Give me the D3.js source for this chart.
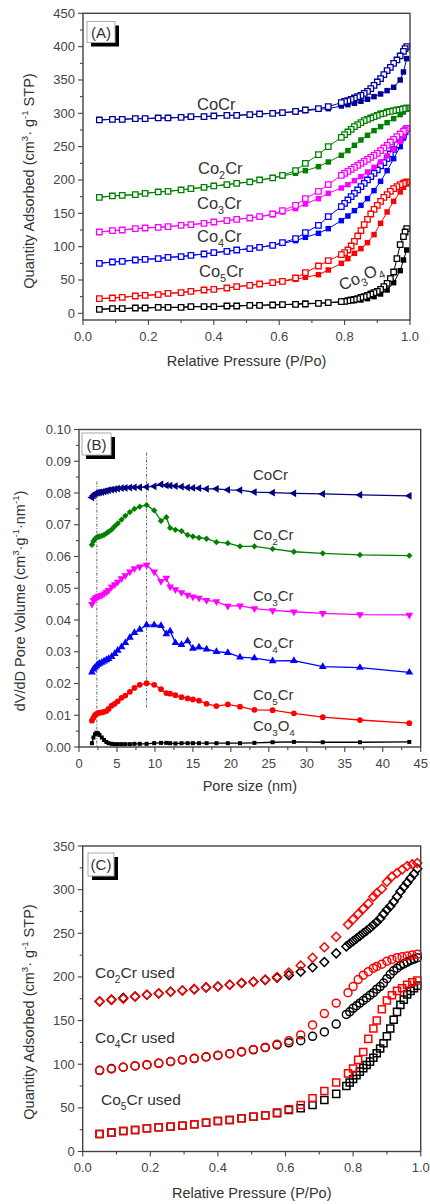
<!DOCTYPE html>
<html><head><meta charset="utf-8">
<script src="https://cdn.jsdelivr.net/npm/d3@7"></script>
<style>body{margin:0;background:#fff}svg{display:block}text{font-family:"Liberation Sans",Arial,sans-serif}</style>
</head><body><svg id="c" width="430" height="1204"></svg>
<script>
// ---------- Panel A: N2 isotherms (fresh catalysts) ----------
const pAds = [0.05,0.09,0.12,0.16,0.19,0.23,0.26,0.30,0.33,0.37,0.40,0.44,0.47,0.51,0.54,0.58,0.61,0.65,0.68,0.72,0.75,0.79,0.81,0.83,0.85,0.87,0.89,0.91,0.93,0.95,0.97,0.98,0.99];
const pDes = [0.99,0.985,0.98,0.97,0.96,0.95,0.94,0.93,0.92,0.91,0.90,0.89,0.88,0.87,0.86,0.85,0.84,0.83,0.82,0.81,0.80,0.79,0.75,0.72,0.68,0.65,0.61,0.58,0.54,0.51,0.47,0.44,0.40,0.37,0.33,0.30,0.26,0.23,0.19,0.16,0.12,0.09,0.05];
const cocrAds = [290,291,291,292,292,293,293,294,295,295,296,297,297,298,299,300,301,302,304,306,307,311,313,315,318,321,325,329,334,339,350,362,382];
const cocrDes = [400,397,393,386,380,375,369,364,358,352,347,342,337,333,330,327,325,323,321,319,318,316,310,307,305,303,301,300,299,298,297,297,296,295,295,294,293,293,292,292,291,291,290];
const co2crAds = [174,176,177,178,180,182,183,185,187,189,191,193,195,197,200,203,206,210,214,220,227,237,244,252,260,267,274,280,286,292,298,302,306];
const co2crDes = [308,307,307,306,305,304,303,302,300,299,297,295,293,291,289,286,283,280,276,272,268,264,250,238,225,214,207,203,200,197,195,193,191,189,187,185,183,182,180,178,177,176,174];
const co3crAds = [122,124,125,127,128,129,130,132,133,135,137,139,141,143,145,148,152,157,164,172,180,188,193,199,205,212,219,227,236,246,258,266,275];
const co3crDes = [277,275,273,269,265,261,257,252,248,244,240,237,234,231,228,225,222,219,216,213,210,207,193,183,172,162,154,149,145,143,141,139,137,135,133,132,130,129,128,127,125,124,122];
const co4crAds = [75,77,78,80,81,82,84,85,87,89,91,93,95,97,99,102,105,109,114,120,127,139,146,154,162,172,184,198,214,232,250,263,276];
const co4crDes = [277,272,267,260,253,246,239,232,226,221,215,210,205,200,195,190,185,180,175,170,165,160,145,132,121,112,106,102,99,97,95,93,91,89,87,85,84,82,81,80,78,77,75];
const co5crAds = [22,23,24,26,27,28,30,31,33,35,36,38,40,42,44,46,48,51,54,58,65,75,82,90,97,106,118,135,152,168,182,189,194];
const co5crDes = [197,196,195,193,190,187,183,178,174,168,162,156,149,141,133,124,116,108,101,95,91,88,79,71,61,53,48,46,44,42,40,38,36,35,33,31,30,28,27,26,24,23,22];
const co3o4Ads = [6,7,7,8,8,9,9,9,10,10,10,11,11,12,12,13,13,14,15,15,16,17,18,19,20,22,25,29,35,46,64,80,95];
const co3o4Des = [127,122,115,103,82,62,52,45,40,36,33,31,29,27,25,24,22,21,20,19,18,17.5,16,15,14,13.5,13,12.5,12,12,11,11,10,10,10,9,9,9,8,8,7,7,6];

// ---------- Panel B: pore size distribution ----------
const poreSize = [1.7,1.9,2.1,2.3,2.5,2.7,3.0,3.3,3.6,3.9,4.3,4.7,5.1,5.6,6.1,6.7,7.3,8.0,8.9,9.9,10.8,11.5,12.0,12.7,13.5,14.3,15.0,15.8,16.8,18.1,19.6,21.2,23.1,25.5,28.3,32.1,37.0,43.5];
const psdCoCr  = [0.0786,0.0792,0.0797,0.0800,0.0801,0.0802,0.0803,0.0805,0.0807,0.0809,0.0811,0.0812,0.0814,0.0815,0.0816,0.0817,0.0818,0.0818,0.0819,0.0821,0.0827,0.0824,0.0823,0.0822,0.0820,0.0817,0.0816,0.0815,0.0813,0.0813,0.0810,0.0809,0.0803,0.0801,0.0799,0.0797,0.0794,0.0791];
const psdCo2Cr = [0.0637,0.0648,0.0655,0.0660,0.0662,0.0663,0.0665,0.0668,0.0673,0.0678,0.0685,0.0695,0.0704,0.0716,0.0728,0.0740,0.0750,0.0757,0.0762,0.0745,0.0712,0.0724,0.0690,0.0684,0.0680,0.0668,0.0663,0.0659,0.0656,0.0645,0.0642,0.0632,0.0632,0.0624,0.0615,0.0610,0.0605,0.0603];
const psdCo3Cr = [0.0450,0.0462,0.0468,0.0472,0.0474,0.0476,0.0478,0.0483,0.0488,0.0494,0.0505,0.0512,0.0520,0.0531,0.0540,0.0552,0.0562,0.0568,0.0573,0.0552,0.0522,0.0532,0.0505,0.0496,0.0487,0.0479,0.0473,0.0469,0.0462,0.0458,0.0444,0.0445,0.0436,0.0430,0.0426,0.0421,0.0417,0.0416];
const psdCo4Cr = [0.0235,0.0245,0.0250,0.0255,0.0260,0.0263,0.0266,0.0270,0.0274,0.0278,0.0284,0.0294,0.0304,0.0315,0.0328,0.0345,0.0360,0.0370,0.0384,0.0384,0.0382,0.0356,0.0365,0.0328,0.0322,0.0334,0.0310,0.0314,0.0308,0.0300,0.0297,0.0283,0.0280,0.0271,0.0272,0.0253,0.0250,0.0235];
const psdCo5Cr = [0.0083,0.0092,0.0100,0.0104,0.0106,0.0108,0.0109,0.0111,0.0113,0.0120,0.0130,0.0136,0.0144,0.0155,0.0162,0.0174,0.0186,0.0196,0.0201,0.0196,0.0182,0.0170,0.0168,0.0163,0.0157,0.0153,0.0150,0.0146,0.0136,0.0129,0.0134,0.0127,0.0117,0.0116,0.0106,0.0094,0.0085,0.0075];
const psdCo3O4 = [0.0012,0.0030,0.0040,0.0045,0.0043,0.0038,0.0030,0.0022,0.0016,0.0012,0.0010,0.0009,0.0009,0.0009,0.0009,0.0009,0.0010,0.0010,0.0010,0.0012,0.0013,0.0013,0.0012,0.0011,0.0012,0.0012,0.0012,0.0012,0.0012,0.0012,0.0012,0.0012,0.0013,0.0015,0.0016,0.0015,0.0015,0.0016];
const guideSize = [2.35, 8.9];
const guideTop = [0.0836, 0.0927];
const guideBottom = [0.0, 0.0122];

// ---------- Panel C: used catalysts ----------
const pUsedAds = [0.05,0.085,0.12,0.155,0.19,0.225,0.26,0.295,0.33,0.365,0.40,0.435,0.47,0.505,0.54,0.575,0.61,0.645,0.68,0.715,0.75,0.78,0.79,0.80,0.81,0.82,0.83,0.84,0.85,0.86,0.87,0.88,0.89,0.90,0.91,0.92,0.93,0.94,0.95,0.96,0.97,0.98,0.99];
const pUsedDes = [0.99,0.975,0.96,0.945,0.93,0.915,0.90,0.885,0.87,0.86,0.845,0.83,0.815,0.80,0.785,0.75,0.715,0.68,0.645,0.61,0.575,0.54,0.505,0.47,0.435,0.40,0.365,0.33,0.295,0.26,0.225,0.19,0.155,0.12,0.085,0.05];
const co2crUsedAds = [172,174,176,177.5,179.5,181,183,184.5,186,188,189,191,193,194.5,196.5,199,202,206,211,217,227,235,238,241,244,247,250,253,256,259.5,263,267,272,277,281,286,292,298,303,308,313,318,324];
const co2crUsedDes = [330.5,329,327,323,319,315,309,301,296,292,284,278,272,266,260,246,234,222,213,205,200,197,194.5,193,191,189,188,186,184.5,183,181.4,179.5,177.5,175,173.7,171.8];
const co4crUsedAds = [93,95,96.5,98,99.5,101,103,105,106.5,108.5,110,112,114,116.5,119,122,124.5,127,132,137,146,157,160,164,167,170,173,176,179,182,186,189,193,198,203,207,210,213,215,217,219,220.5,222];
const co4crUsedDes = [226,225,224,223,222,220,218,214.5,212,210,206,202,197,189,182,170,158,145,133.5,127,123,119.5,117,114.5,112,110.3,108.4,106.8,105,103,101,99.2,98,96.5,94.6,92.7];
const co5crUsedAds = [20,21.6,23.5,24.7,26.6,27.7,28.4,29.6,31.2,33,35,36.1,38,39.9,41.5,44,47.5,49.5,53.3,59,66,75,79,83,87.5,91.5,95.5,99,103,107.5,112.5,118,124,132,141,151,160,168,174,180,184,187,190];
const co5crUsedDes = [196,194,191,187,184,179,173,163,150,141,129,114,105,95,89.5,79,69.4,61,53.3,48.4,44.5,41.5,39.9,38,36.1,35,33,31.2,29.6,28.4,27.7,26.6,24.7,23.5,21.6,20];

// ---------- ticks ----------
const pressTicks = [0, 0.2, 0.4, 0.6, 0.8, 1.0];
const pressMinor = [0.1, 0.3, 0.5, 0.7, 0.9];
const aYTicks = [0,50,100,150,200,250,300,350,400,450];
const aYMinor = [25,75,125,175,225,275,325,375,425];
const bXTicks = [0,5,10,15,20,25,30,35,40,45];
const bXMinor = [2.5,7.5,12.5,17.5,22.5,27.5,32.5,37.5,42.5];
const bYTicks = [0,0.01,0.02,0.03,0.04,0.05,0.06,0.07,0.08,0.09,0.10];
const bYMinor = [0.005,0.015,0.025,0.035,0.045,0.055,0.065,0.075,0.085,0.095];
const cYTicks = [0,50,100,150,200,250,300,350];
const cYMinor = [25,75,125,175,225,275,325];

const svg = d3.select('#c');
const TXT = '#333';
const AX = '#444';

function rich(g, x, y, parts, size, o = {}) {
  const t = g.append('text').attr('x', x).attr('y', y)
    .style('font-size', size + 'px').attr('fill', o.fill || TXT)
    .attr('text-anchor', o.anchor || 'start');
  if (o.transform) t.attr('transform', o.transform);
  let off = 0;
  parts.forEach(p => {
    let s = p, k = null;
    if (Array.isArray(p)) { s = p[0]; k = p[1]; }
    const target = k === 'sub' ? size * 0.3 : k === 'sup' ? -size * 0.4 : 0;
    const ts = t.append('tspan').text(s).attr('dy', target - off);
    if (k) ts.style('font-size', (size * 0.66) + 'px');
    off = target;
  });
  return t;
}

function frame(g, x, y, c) {
  const [x0, x1] = x.range(), [y0, y1] = y.range();
  // ticks
  const tk = g.append('g').attr('stroke', AX).attr('stroke-width', 1.1);
  c.xMajor.forEach(v => tk.append('line').attr('x1', x(v)).attr('x2', x(v)).attr('y1', y0).attr('y2', y0 + 5));
  c.xMinor.forEach(v => tk.append('line').attr('x1', x(v)).attr('x2', x(v)).attr('y1', y0).attr('y2', y0 + 3));
  c.yMajor.forEach(v => tk.append('line').attr('y1', y(v)).attr('y2', y(v)).attr('x1', x0).attr('x2', x0 - 5));
  c.yMinor.forEach(v => tk.append('line').attr('y1', y(v)).attr('y2', y(v)).attr('x1', x0).attr('x2', x0 - 3));
  g.append('rect').attr('x', x0).attr('y', y1).attr('width', x1 - x0).attr('height', y0 - y1)
    .attr('fill', 'none').attr('stroke', AX).attr('stroke-width', 1.4);
  const lab = g.append('g').attr('fill', '#444').style('font-size', '13px');
  c.xMajor.forEach(v => lab.append('text').attr('x', x(v)).attr('y', c.xLabY).attr('text-anchor', 'middle').text(c.xFmt(v)));
  c.yMajor.forEach(v => lab.append('text').attr('x', x0 - 8).attr('y', y(v) + 4.5).attr('text-anchor', 'end').text(c.yFmt(v)));
  g.append('text').attr('x', (x0 + x1) / 2).attr('y', c.xTitleY).attr('text-anchor', 'middle')
    .style('font-size', '14.5px').attr('fill', TXT).text(c.xTitle);
  rich(g, 0, 0, c.yTitle, 14.5, { anchor: 'middle', transform: `translate(${c.yTitleX},${c.yTitleY}) rotate(-90)` });
  // panel tag box
  const b = c.box;
  g.append('rect').attr('x', b.x + 4).attr('y', b.y + 4).attr('width', b.w).attr('height', b.h).attr('fill', '#000');
  g.append('rect').attr('x', b.x).attr('y', b.y).attr('width', b.w).attr('height', b.h).attr('fill', '#fff').attr('stroke', '#aaa').attr('stroke-width', 1);
  g.append('text').attr('x', b.x + b.w / 2).attr('y', b.y + b.h / 2 + 5.5).attr('text-anchor', 'middle')
    .style('font-size', '15px').attr('fill', TXT).text(b.text);
}

const zip = (xs, ys) => xs.map((v, i) => [v, ys[i]]);

// ================= Panel A =================
{
  const g = svg.append('g');
  const x = d3.scaleLinear().domain([0, 1]).range([83, 410]);
  const y = d3.scaleLinear().domain([-10, 450]).range([320, 13.3]);
  const line = d3.line().x(d => x(d[0])).y(d => y(d[1]));
  const sq = d3.symbol(d3.symbolSquare, 30);
  const series = [
    { ads: co3o4Ads, des: co3o4Des, color: '#000000' },
    { ads: co5crAds, des: co5crDes, color: '#ff0000' },
    { ads: co4crAds, des: co4crDes, color: '#0000ff' },
    { ads: co3crAds, des: co3crDes, color: '#ff00ff' },
    { ads: co2crAds, des: co2crDes, color: '#008000' },
    { ads: cocrAds, des: cocrDes, color: '#000099' }
  ];
  series.forEach(s => {
    const a = zip(pAds, s.ads), d = zip(pDes, s.des);
    g.append('path').attr('d', line(a)).attr('fill', 'none').attr('stroke', s.color).attr('stroke-width', 1);
    g.append('path').attr('d', line(d)).attr('fill', 'none').attr('stroke', s.color).attr('stroke-width', 1);
    g.selectAll(null).data(a).enter().append('path').attr('d', sq)
      .attr('transform', p => `translate(${x(p[0])},${y(p[1])})`).attr('fill', s.color);
    g.selectAll(null).data(d).enter().append('path').attr('d', sq)
      .attr('transform', p => `translate(${x(p[0])},${y(p[1])})`).attr('fill', '#fff')
      .attr('stroke', s.color).attr('stroke-width', 1.3);
  });
  frame(g, x, y, {
    xMajor: pressTicks, xMinor: pressMinor, yMajor: aYTicks, yMinor: aYMinor,
    xFmt: d3.format('.1f'), yFmt: d3.format('d'), xLabY: 341, xTitleY: 366,
    xTitle: 'Relative Pressure (P/Po)',
    yTitle: ['Quantity Adsorbed (cm', ['3', 'sup'], '· g', ['-1', 'sup'], ' STP)'], yTitleX: 34, yTitleY: 181,
    box: { x: 87, y: 21.5, w: 28, h: 21, text: '(A)' }
  });
  const L = 16.5;
  rich(g, 197, 110, ['CoCr'], L);
  rich(g, 198, 174, ['Co', ['2', 'sub'], 'Cr'], L);
  rich(g, 197, 209, ['Co', ['3', 'sub'], 'Cr'], L);
  rich(g, 197, 242, ['Co', ['4', 'sub'], 'Cr'], L);
  rich(g, 199, 277, ['Co', ['5', 'sub'], 'Cr'], L);
  rich(g, 0, 0, ['Co', ['3', 'sub'], 'O', ['4', 'sub']], L, { transform: 'translate(342,291) rotate(-24)' });
}

// ================= Panel B =================
{
  const g = svg.append('g');
  const x = d3.scaleLinear().domain([0, 45]).range([79, 420.7]);
  const y = d3.scaleLinear().domain([0, 0.10]).range([747, 429.5]);
  const line = d3.line().x(d => x(d[0])).y(d => y(d[1]));
  // guide lines
  guideSize.forEach((v, i) => g.append('line').attr('x1', x(v)).attr('x2', x(v))
    .attr('y1', y(guideTop[i])).attr('y2', y(guideBottom[i]))
    .attr('stroke', '#666').attr('stroke-width', 1).attr('stroke-dasharray', '3,1.5,1,1.5'));
  const series = [
    { v: psdCoCr, color: '#000080', sym: d3.symbolTriangle, size: 26, rot: -90 },
    { v: psdCo2Cr, color: '#008000', sym: d3.symbolSquare, size: 20, rot: 45 },
    { v: psdCo3Cr, color: '#ff00ff', sym: d3.symbolTriangle, size: 26, rot: 180 },
    { v: psdCo4Cr, color: '#0000ff', sym: d3.symbolTriangle, size: 26, rot: 0 },
    { v: psdCo5Cr, color: '#ff0000', sym: d3.symbolCircle, size: 26, rot: 0 },
    { v: psdCo3O4, color: '#000000', sym: d3.symbolSquare, size: 16, rot: 0 }
  ];
  series.forEach(s => {
    const pts = zip(poreSize, s.v);
    g.append('path').attr('d', line(pts)).attr('fill', 'none').attr('stroke', s.color).attr('stroke-width', 1.3);
    const sym = d3.symbol(s.sym, s.size);
    g.selectAll(null).data(pts).enter().append('path').attr('d', sym)
      .attr('transform', p => `translate(${x(p[0])},${y(p[1])}) rotate(${s.rot})`).attr('fill', s.color);
  });
  frame(g, x, y, {
    xMajor: bXTicks, xMinor: bXMinor, yMajor: bYTicks, yMinor: bYMinor,
    xFmt: d3.format('d'), yFmt: d3.format('.2f'), xLabY: 768, xTitleY: 791,
    xTitle: 'Pore size (nm)',
    yTitle: ['dV/dD Pore Volume (cm', ['3', 'sup'], '·g', ['-1', 'sup'], '·nm', ['-1', 'sup'], ')'], yTitleX: 25, yTitleY: 601,
    box: { x: 82, y: 433, w: 29, h: 22, text: '(B)' }
  });
  const L = 15;
  rich(g, 253, 480, ['CoCr'], L);
  rich(g, 253, 540, ['Co', ['2', 'sub'], 'Cr'], L);
  rich(g, 253, 601, ['Co', ['3', 'sub'], 'Cr'], L);
  rich(g, 253, 648, ['Co', ['4', 'sub'], 'Cr'], L);
  rich(g, 253, 700, ['Co', ['5', 'sub'], 'Cr'], L);
  rich(g, 253, 731, ['Co', ['3', 'sub'], 'O', ['4', 'sub']], L);
}

// ================= Panel C =================
{
  const g = svg.append('g');
  const x = d3.scaleLinear().domain([0, 1]).range([82.7, 420.7]);
  const y = d3.scaleLinear().domain([0, 350]).range([1151.5, 846]);
  const series = [
    { ads: co2crUsedAds, des: co2crUsedDes, sym: d3.symbolSquare, size: 40, rot: 45 },
    { ads: co4crUsedAds, des: co4crUsedDes, sym: d3.symbolCircle, size: 50, rot: 0 },
    { ads: co5crUsedAds, des: co5crUsedDes, sym: d3.symbolSquare, size: 50, rot: 0 }
  ];
  series.forEach(s => {
    const sym = d3.symbol(s.sym, s.size);
    [[zip(pUsedAds, s.ads), '#000'], [zip(pUsedDes, s.des), '#ff0000']].forEach(([pts, col]) => {
      g.selectAll(null).data(pts).enter().append('path').attr('d', sym)
        .attr('transform', p => `translate(${x(p[0])},${y(p[1])}) rotate(${s.rot})`)
        .attr('fill', 'none').attr('stroke', col).attr('stroke-width', 1.5);
    });
  });
  frame(g, x, y, {
    xMajor: pressTicks, xMinor: pressMinor, yMajor: cYTicks, yMinor: cYMinor,
    xFmt: d3.format('.1f'), yFmt: d3.format('d'), xLabY: 1172, xTitleY: 1198,
    xTitle: 'Relative Pressure (P/Po)',
    yTitle: ['Quantity Adsorbed (cm', ['3', 'sup'], '· g', ['-1', 'sup'], ' STP)'], yTitleX: 34, yTitleY: 1012,
    box: { x: 88, y: 853, w: 26, h: 23, text: '(C)' }
  });
  const L = 15.5;
  rich(g, 95, 978, ['Co', ['2', 'sub'], 'Cr used'], L);
  rich(g, 95, 1043, ['Co', ['4', 'sub'], 'Cr used'], L);
  rich(g, 101, 1105, ['Co', ['5', 'sub'], 'Cr used'], L);
}
</script></body></html>
